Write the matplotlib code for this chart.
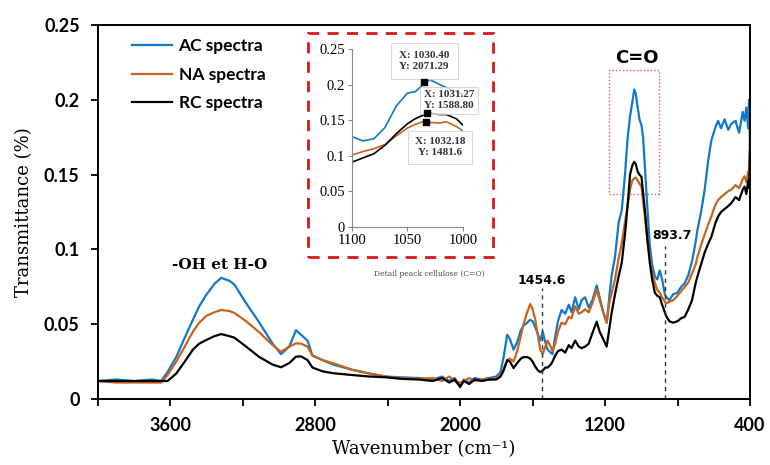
import numpy as np
import matplotlib.pyplot as plt
from matplotlib.patches import Rectangle
from matplotlib.ticker import FuncFormatter

# wavenumber grid (cm-1)
wavenumber = [4000, 3900, 3800, 3700, 3650, 3615, 3567, 3520, 3475, 3440,
              3402, 3356, 3319, 3273, 3246, 3181, 3108, 3035, 2989, 2943,
              2906, 2879, 2842, 2815, 2760, 2700, 2595, 2500, 2411, 2330,
              2228, 2150, 2100, 2060, 2030, 2000, 1980, 1950, 1920, 1880,
              1840, 1800, 1777, 1760, 1740, 1725, 1705, 1685, 1665, 1650,
              1630, 1613, 1600, 1585, 1570, 1558, 1544, 1530, 1517, 1500,
              1490, 1475, 1460, 1440, 1420, 1400, 1385, 1365, 1345, 1330,
              1310, 1290, 1270, 1246, 1230, 1210, 1191, 1175, 1163, 1145,
              1125, 1108, 1090, 1075, 1062, 1050, 1039, 1030, 1020, 1010,
              999, 990, 980, 965, 953, 940, 925, 912, 898, 885,
              870, 861, 845, 824, 800, 780, 760, 740, 720, 700,
              690, 670, 650, 630, 613, 600, 590, 576, 560, 540,
              520, 503, 480, 460, 440, 430, 420, 410, 405, 400]

ac_spectra = [0.012, 0.013, 0.012, 0.013, 0.012, 0.018, 0.028, 0.041, 0.053, 0.062,
              0.0695, 0.077, 0.081, 0.079, 0.0765, 0.064, 0.051, 0.037, 0.030, 0.035,
              0.046, 0.043, 0.039, 0.029, 0.026, 0.023, 0.0195, 0.017, 0.015, 0.0145,
              0.014, 0.013, 0.015, 0.012, 0.014, 0.009, 0.013, 0.011, 0.014, 0.013,
              0.014, 0.015, 0.018, 0.028, 0.043, 0.040, 0.033, 0.038, 0.046, 0.049,
              0.051, 0.053, 0.052, 0.048, 0.043, 0.039, 0.045, 0.038, 0.033, 0.031,
              0.030, 0.042, 0.052, 0.0595, 0.057, 0.063, 0.058, 0.068, 0.060, 0.066,
              0.068, 0.061, 0.066, 0.076, 0.068, 0.058, 0.051, 0.070, 0.083, 0.095,
              0.118, 0.126, 0.150, 0.175, 0.189, 0.198, 0.207, 0.204, 0.195, 0.187,
              0.183, 0.175, 0.155, 0.125, 0.103, 0.090, 0.082, 0.080, 0.086, 0.080,
              0.070, 0.068, 0.066, 0.070, 0.071, 0.075, 0.0775, 0.083, 0.092, 0.105,
              0.113, 0.125, 0.140, 0.160, 0.173, 0.178, 0.182, 0.186, 0.181, 0.187,
              0.180, 0.184, 0.186, 0.178, 0.192, 0.186, 0.195, 0.181, 0.200, 0.169]

na_spectra = [0.012, 0.011, 0.011, 0.011, 0.011, 0.016, 0.025, 0.035, 0.045, 0.051,
              0.0555, 0.058, 0.0595, 0.0588, 0.0575, 0.052, 0.0445, 0.036, 0.0316, 0.035,
              0.0372, 0.037, 0.035, 0.029, 0.026, 0.0239, 0.0195, 0.017, 0.015, 0.014,
              0.0135, 0.014, 0.012, 0.015, 0.012, 0.011, 0.012, 0.014, 0.012, 0.013,
              0.013, 0.014, 0.016, 0.020, 0.026, 0.027, 0.025, 0.032, 0.042, 0.050,
              0.058, 0.0635, 0.060, 0.053, 0.042, 0.033, 0.030, 0.035, 0.039, 0.035,
              0.032, 0.037, 0.045, 0.051, 0.050, 0.055, 0.054, 0.062, 0.057, 0.058,
              0.060, 0.058, 0.064, 0.073, 0.066, 0.058, 0.051, 0.065, 0.071, 0.080,
              0.094, 0.104, 0.118, 0.130, 0.140, 0.146, 0.1475, 0.148, 0.146, 0.144,
              0.142, 0.132, 0.122, 0.105, 0.095, 0.085, 0.0775, 0.073, 0.071, 0.068,
              0.065, 0.064, 0.065, 0.066, 0.069, 0.072, 0.075, 0.078, 0.084, 0.090,
              0.095, 0.103, 0.110, 0.117, 0.122, 0.127, 0.130, 0.133, 0.135, 0.137,
              0.139, 0.140, 0.143, 0.141, 0.147, 0.149, 0.145, 0.152, 0.150, 0.171]

rc_spectra = [0.012, 0.012, 0.012, 0.012, 0.012, 0.012, 0.017, 0.025, 0.033, 0.037,
              0.0394, 0.042, 0.0434, 0.042, 0.041, 0.035, 0.028, 0.023, 0.0212, 0.024,
              0.0283, 0.0285, 0.026, 0.021, 0.0185, 0.0172, 0.016, 0.015, 0.0145, 0.0135,
              0.013, 0.012, 0.014, 0.011, 0.013, 0.008, 0.012, 0.010, 0.013, 0.012,
              0.013, 0.013, 0.015, 0.019, 0.026, 0.025, 0.0207, 0.024, 0.027, 0.028,
              0.028, 0.027, 0.025, 0.0216, 0.019, 0.018, 0.019, 0.021, 0.021, 0.023,
              0.025, 0.029, 0.032, 0.033, 0.031, 0.036, 0.034, 0.039, 0.035, 0.034,
              0.035, 0.037, 0.044, 0.0517, 0.045, 0.040, 0.035, 0.048, 0.058, 0.070,
              0.082, 0.091, 0.110, 0.130, 0.150, 0.156, 0.1586, 0.157, 0.152, 0.150,
              0.1486, 0.138, 0.126, 0.105, 0.091, 0.080, 0.071, 0.069, 0.068, 0.063,
              0.058, 0.055, 0.052, 0.051, 0.052, 0.054, 0.055, 0.060, 0.066, 0.0775,
              0.082, 0.090, 0.098, 0.104, 0.1085, 0.114, 0.118, 0.122, 0.125, 0.127,
              0.129, 0.131, 0.135, 0.133, 0.140, 0.142, 0.137, 0.146, 0.141, 0.166]

# inset: detail of the C=O peak
inset_wn = [1100, 1090, 1080, 1070, 1060, 1050, 1043, 1036, 1030, 1021, 1015, 1006, 1000]
inset_ac = [0.127, 0.121, 0.124, 0.140, 0.170, 0.188, 0.190, 0.200, 0.207, 0.200, 0.196, 0.190, 0.186]
inset_na = [0.101, 0.106, 0.110, 0.116, 0.128, 0.139, 0.144, 0.148, 0.147, 0.146, 0.148, 0.141, 0.135]
inset_rc = [0.091, 0.097, 0.103, 0.115, 0.131, 0.145, 0.152, 0.157, 0.160, 0.158, 0.158, 0.152, 0.143]
marker_x = [1035.2, 1033.7, 1032.2]
marker_y = [0.203, 0.148, 0.160]

blue = '#1279c9'
orange = '#c8641e'

fig = plt.figure(figsize=(7.7, 4.65), dpi=100)
ax = fig.add_axes([0.127, 0.142, 0.847, 0.804])

ax.plot(wavenumber, ac_spectra, color=blue, lw=1.6, label='AC spectra')
ax.plot(wavenumber, na_spectra, color=orange, lw=1.6, label='NA spectra')
ax.plot(wavenumber, rc_spectra, color='black', lw=1.6, label='RC spectra')

ax.set_xlim(4000, 400)
ax.set_ylim(0, 0.25)
ax.set_xticks(np.arange(4000, 399, -400))
ax.set_xticklabels(['' if t not in (3600, 2800, 2000, 1200, 400) else str(t)
                    for t in np.arange(4000, 399, -400)])
ax.set_yticks(np.arange(0, 0.26, 0.05))
ax.yaxis.set_major_formatter(FuncFormatter(lambda v, p: '{:g}'.format(round(v, 2))))
ax.tick_params(direction='out', length=5, width=1.3, labelsize=13, pad=8)
for lab in ax.get_xticklabels() + ax.get_yticklabels():
    lab.set_family('Lato')
    lab.set_fontweight('bold')
for s in ax.spines.values():
    s.set_linewidth(1.4)

ax.set_xlabel('Wavenumber (cm\u207b\u00b9)', family='DejaVu Serif', fontsize=13, labelpad=4)
ax.set_ylabel('Transmittance (%)', family='DejaVu Serif', fontsize=13, labelpad=8)

leg = ax.legend(loc='upper left', bbox_to_anchor=(0.052, 0.965), frameon=False,
                prop={'family': 'Lato', 'size': 12.5, 'weight': 'bold'}, handlelength=2.3,
                labelspacing=0.72, borderpad=0, borderaxespad=0, handletextpad=0.4)

# annotations
ax.text(3328, 0.0896, '-OH et H-O', family='DejaVu Serif', fontweight='bold',
        fontsize=11, ha='center', va='center')
ax.text(1025, 0.228, 'C=O', family='DejaVu Sans', fontweight='bold',
        fontsize=13, ha='center', va='center')
ax.add_patch(Rectangle((901, 0.137), 275, 0.083, fill=False, ec='#e06060',
                       lw=1.0, ls=(0, (1, 1.5))))
ax.text(1550, 0.0795, '1454.6', family='DejaVu Sans', fontweight='bold',
        fontsize=9, ha='center', va='center')
ax.plot([1547, 1547], [0, 0.074], color='#333333', lw=1.0, ls=(0, (3, 3)))
ax.text(832, 0.1096, '893.7', family='DejaVu Sans', fontweight='bold',
        fontsize=9, ha='center', va='center')
ax.plot([870, 870], [0, 0.102], color='#333333', lw=1.0, ls=(0, (3, 3)))

# red dashed frame and inset
fig.patches.append(Rectangle((0.400, 0.447), 0.240, 0.482, transform=fig.transFigure,
                             fill=False, ec='#d9161c', lw=2.0, ls=(0, (4, 3))))
fig.text(0.558, 0.411, 'Detail peack cellulose (C=O)', family='DejaVu Serif',
         fontsize=5.5, color='#444444', ha='center', va='center')

ins = fig.add_axes([0.4568, 0.5118, 0.1446, 0.3828])
ins.plot(inset_wn, inset_ac, color=blue, lw=1.2)
ins.plot(inset_wn, inset_na, color=orange, lw=1.2)
ins.plot(inset_wn, inset_rc, color='black', lw=1.2)
ins.set_xlim(1100, 1000)
ins.set_ylim(0, 0.25)
ins.set_xticks([1100, 1050, 1000])
ins.set_yticks(np.arange(0, 0.26, 0.05))
ins.yaxis.set_major_formatter(FuncFormatter(lambda v, p: '{:g}'.format(round(v, 2))))
ins.tick_params(direction='out', length=3, width=0.8, color='#888888',
                labelsize=10.5, pad=2)
for lab in ins.get_xticklabels() + ins.get_yticklabels():
    lab.set_family('Liberation Serif')
for side in ['top', 'right']:
    ins.spines[side].set_visible(False)
for side in ['left', 'bottom']:
    ins.spines[side].set_color('#888888')
    ins.spines[side].set_linewidth(0.8)
ins.patch.set_alpha(0)

boxes = [(1035, 0.233, 'X: 1030.40\nY: 2071.29', 0.75),
         (1012.6, 0.178, 'X: 1031.27\nY: 1588.80', 0.35),
         (1020.6, 0.112, 'X: 1032.18\nY: 1481.6', 0.6)]
for bx, by, txt, pad in boxes:
    ins.text(bx, by, txt, family='Liberation Serif', fontsize=8, color='#333333',
             fontweight='bold', ha='center', va='center', linespacing=1.25, clip_on=False,
             zorder=4,
             bbox=dict(boxstyle='square,pad=%s' % pad, fc='white', ec='#cccccc', lw=0.8, alpha=0.75))
ins.plot(marker_x, marker_y, 's', color='black', ms=4.5, ls='none', zorder=6, clip_on=False)

fig.savefig('out.png', dpi=100)
